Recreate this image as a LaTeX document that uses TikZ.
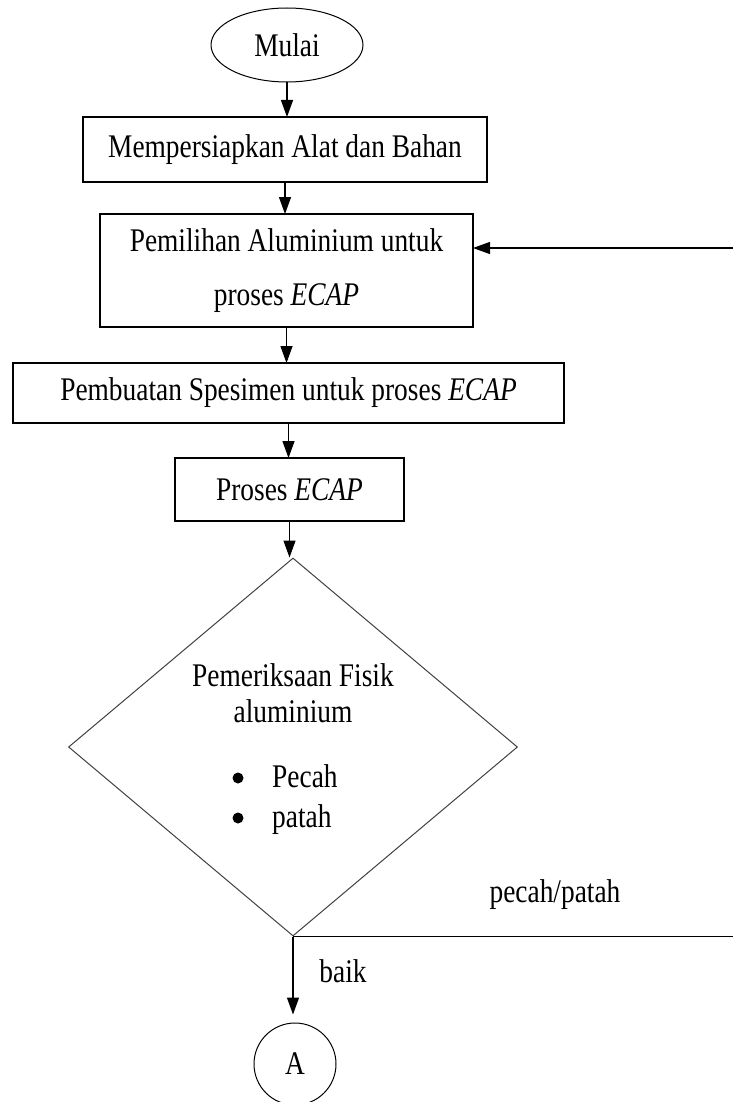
\documentclass[tikz,border=0pt]{standalone}
\usepackage{fontspec}
\setmainfont{Liberation Serif}[FakeStretch=0.83]
\usetikzlibrary{shapes.geometric,arrows.meta}

\tikzset{
	huruf/.style={font=\fontsize{33}{36}\selectfont},
	kotak/.style={draw,rectangle,line width=1.6pt,inner sep=0,outer sep=0,huruf},
	panah/.style={line width=1.3pt,-{Triangle[length=17pt,width=12pt]}},
}

\begin{document}
\begin{tikzpicture}[x=1pt,y=-1pt]
	\useasboundingbox (0,0) rectangle (733,1102);
	\node[draw,ellipse,line width=1pt,minimum width=152pt,minimum height=74pt,inner sep=0,huruf] (mulai) at (287,45) {Mulai};
	\node[kotak,minimum width=404pt,minimum height=65pt] (siap) at (285,149.5) {Mempersiapkan Alat dan Bahan};
	\node[kotak,minimum width=373pt,minimum height=113pt,align=center,font=\fontsize{33}{54}\selectfont] (pilih) at (286.5,270.5) {Pemilihan Aluminium untuk\\proses \textit{ECAP}};
	\node[kotak,minimum width=551pt,minimum height=60pt] (spesimen) at (288.5,393) {Pembuatan Spesimen untuk proses \textit{ECAP}};
	\node[kotak,minimum width=229pt,minimum height=63pt] (proses) at (289.5,489.5) {Proses \textit{ECAP}};
	\node[draw=black!75,diamond,line width=1pt,minimum width=449pt,minimum height=378pt,inner sep=0] (cek) at (293,747) {};
	\node[huruf,align=center] (judulcek) at (293,693) {Pemeriksaan Fisik\\aluminium};
	\node[huruf,align=left,anchor=west,inner sep=0] (daftar) at (272,800) {Pecah\\[4pt]patah};
	\fill (238,778) circle (5.5pt);
	\fill (238,818) circle (5.5pt);
	\node[draw,circle,line width=1pt,minimum size=82pt,inner sep=0,huruf] (A) at (295,1064) {A};
	\node[huruf] (lrusak) at (555,895) {pecah/patah};
	\node[huruf] (lbaik) at (343,971) {baik};
	\coordinate (kananatas) at (733,248);
	\coordinate (kananbawah) at (733,938);
	\draw[panah] (mulai.south) -- (mulai.south |- siap.north);
	\draw[panah] (siap.south) -- (siap.south |- pilih.north);
	\draw[panah] (pilih.south) -- (pilih.south |- spesimen.north);
	\draw[panah] (spesimen.south) -- (spesimen.south |- proses.north);
	\draw[panah] (proses.south) -- (proses.south |- cek.north);
	\draw[panah,shorten >=8pt] (cek.south) -- (cek.south |- A.north);
	\draw[line width=1.4pt] (cek.south) -- (cek.south -| kananbawah);
	\draw[panah] (kananatas) -- (kananatas -| pilih.east);
\end{tikzpicture}
\end{document}
